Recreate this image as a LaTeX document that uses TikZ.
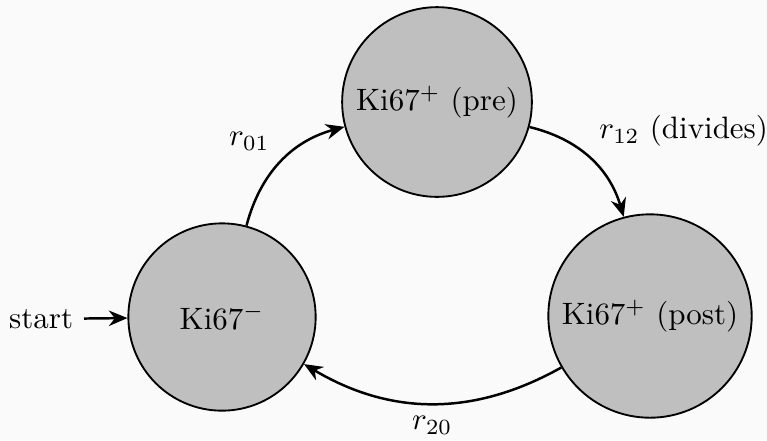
\documentclass[tikz,border=0pt]{standalone}
\usetikzlibrary{arrows.meta,positioning}
\definecolor{bgc}{RGB}{250,250,250}
\begin{document}
\begin{tikzpicture}[x=0.323pt,y=-0.323pt,
  state/.style={circle,draw,semithick,fill=gray!50,minimum size=60.5pt,inner sep=3.33pt},
  trans/.style={-{Stealth[length=6pt,width=5pt]},thick},
  lbl/.style={}]
\fill[bgc] (0,0) rectangle (767,440);
\useasboundingbox (0,0) rectangle (767,440);
\node[state] (k0) at (222,317) {Ki67$^-$};
\node[state] (k1) at (437,102) {Ki67$^+$ (pre)};
\node[state] (k2) at (650,316) {Ki67$^+$ (post)};
\node[lbl,anchor=east] (start) at (84,319) {start};
\draw[trans] (start) -- (k0);
\draw[trans] (k0) to[bend left=30] node[lbl,above left=0pt and 0pt,pos=0.5] (l01) {$r_{01}$} (k1);
\draw[trans] (k1) to[bend left=30] node[lbl,above right=0pt and -0.6pt,pos=0.5] (l12) {$r_{12}$ (divides)} (k2);
\draw[trans] (k2) to[bend left=30] node[lbl,below=0.4pt,pos=0.5] (l20) {$r_{20}$} (k0);
\end{tikzpicture}
\end{document}
